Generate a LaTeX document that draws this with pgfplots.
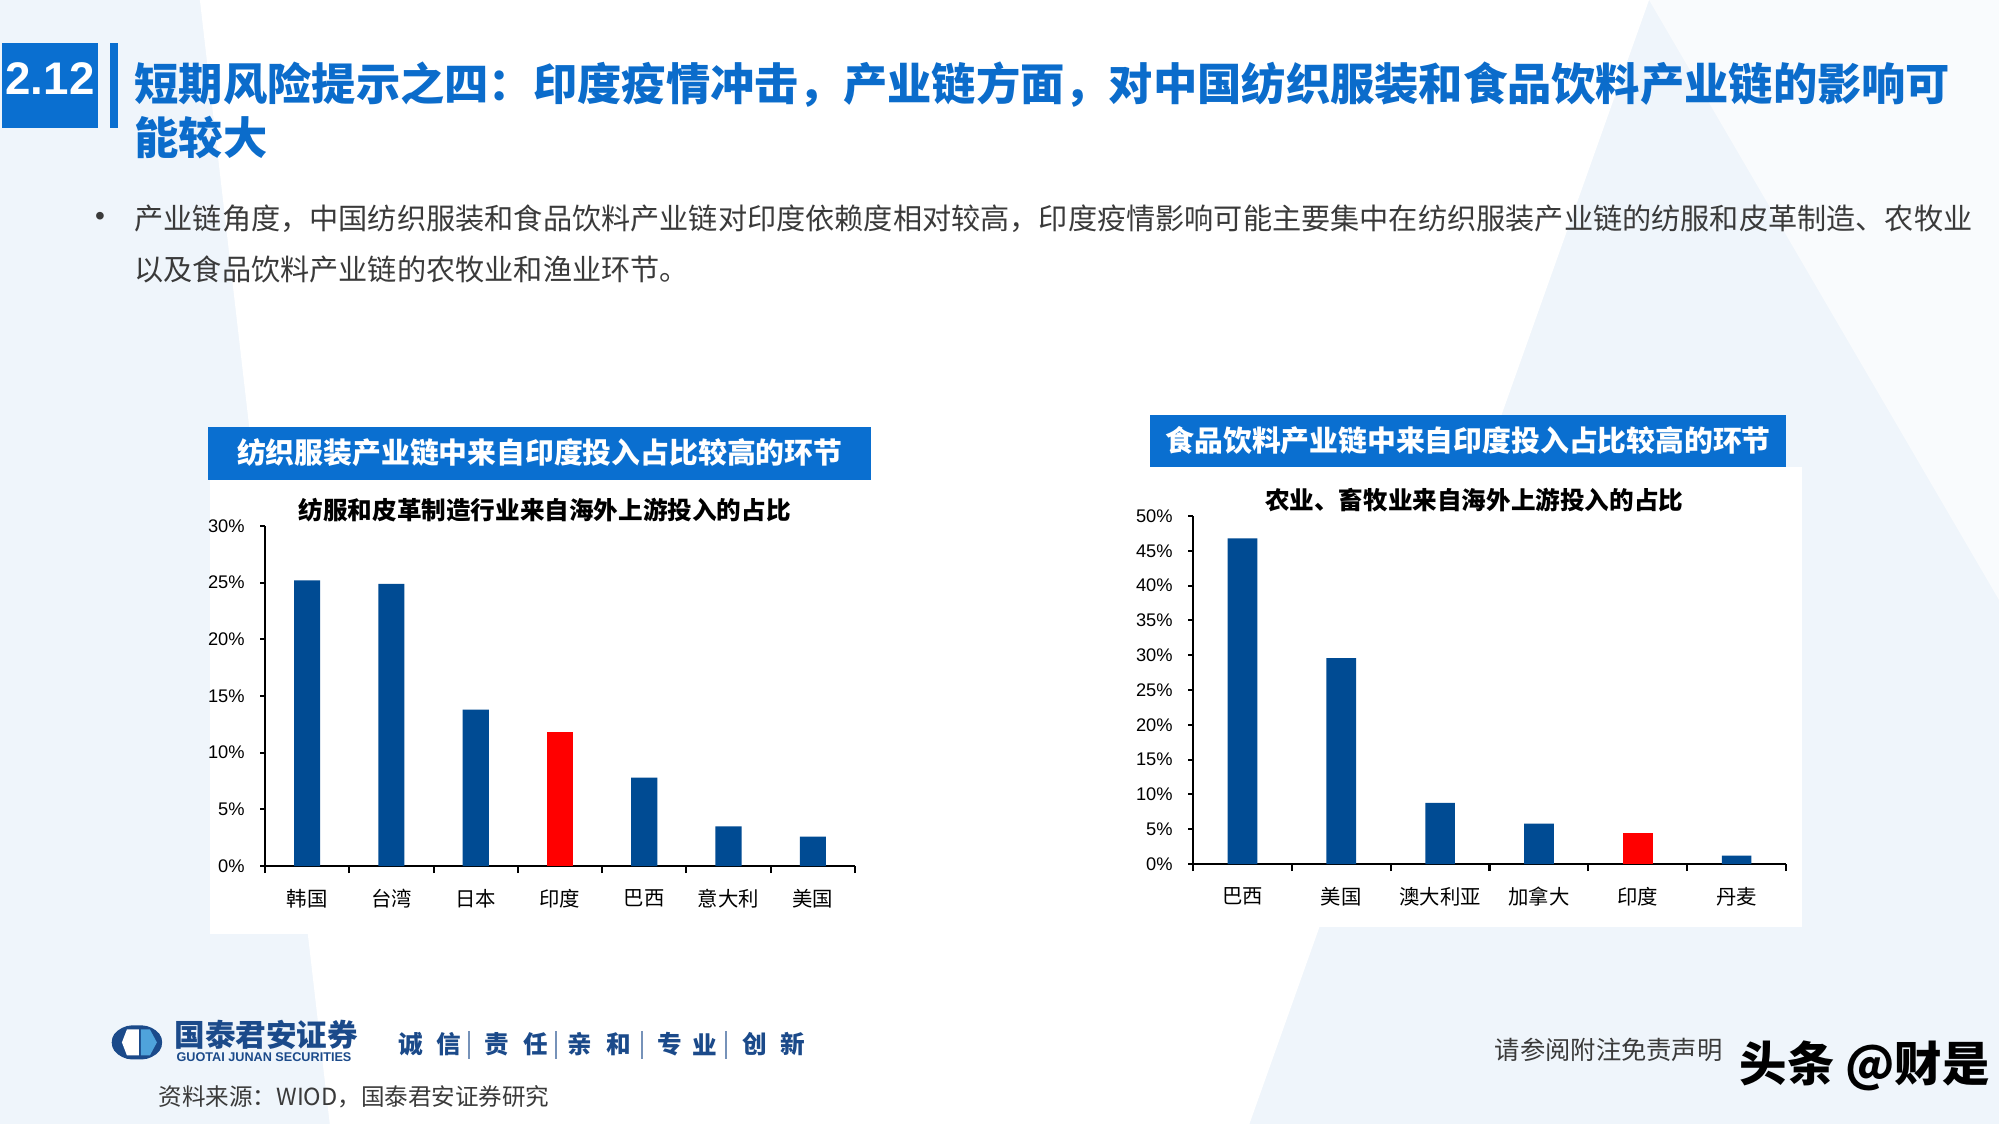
\documentclass[border=0pt]{standalone}
\usepackage{pgfplots}
\pgfplotsset{compat=1.18}
\usepackage{fontspec}
\setmainfont{Liberation Sans}
\newfontfamily\cjk{Noto Sans CJK SC}
\definecolor{barblue}{HTML}{004B93}
\definecolor{hdrblue}{HTML}{0A6FD0}
\definecolor{ttlblue}{HTML}{0B6CCB}
\definecolor{navy}{HTML}{1B4A8A}
\definecolor{lblue}{HTML}{4FA3DB}
\definecolor{txtgray}{HTML}{3A3A3A}
\definecolor{bgl}{HTML}{EFF5FB}
\newcommand\fs[1]{\fontsize{#1}{#1}\selectfont}
\pgfplotsset{mybar/.style={
  scale only axis, anchor=south west,
  axis lines=left, axis line style={-, line width=0.6pt, black},
  ymin=0,
  ybar, bar shift=0pt,
  xtick style={draw=none},
  ytick style={line width=0.6pt, black},
  tick align=outside, major tick length=0.05cm,
  extra x tick style={xtick style={draw=black, line width=0.6pt}, major tick length=0.07cm},
  extra x tick labels={},
  yticklabel={\pgfmathprintnumber{\tick}\%},
  /pgf/number format/assume math mode=true,
  yticklabel style={font=\fs{5.2pt}, xshift=-0.03cm},
  xticklabel style={font=\cjk\fs{5.8pt}, yshift=-0.06cm},
}}
\begin{document}
\begin{tikzpicture}
\useasboundingbox (0,0) rectangle (20cm,-11.25cm);
\begin{scope}[x=0.01cm,y=-0.01cm]
\fill[bgl] (0,0) rectangle (2000,1125);
\fill[white] (200,0) -- (1650,0) -- (1250,1125) -- (330,1125) -- cycle;
\fill[white!60!bgl] (1650,0) -- (2000,0) -- (2000,600) -- cycle;
% title block
\fill[hdrblue] (2,43) rectangle (98,128);
\node[text=white, font=\bfseries\fs{13pt}, inner sep=0] at (50,79) {2.12};
\fill[hdrblue] (110,43) rectangle (118,128);
\node[anchor=west, inner sep=0, text=ttlblue, font=\cjk\bfseries\fs{12.6pt}] at (134,85) {短期风险提示之四：印度疫情冲击，产业链方面，对中国纺织服装和食品饮料产业链的影响可};
\node[anchor=west, inner sep=0, text=ttlblue, font=\cjk\bfseries\fs{12.6pt}] at (134,138) {能较大};
% bullet
\node[text=txtgray, font=\fs{8pt}, inner sep=0] at (100,219) {•};
\node[anchor=west, inner sep=0, text=txtgray, font=\cjk\fs{8.3pt}] at (134,219) {产业链角度，中国纺织服装和食品饮料产业链对印度依赖度相对较高，印度疫情影响可能主要集中在纺织服装产业链的纺服和皮革制造、农牧业};
\node[anchor=west, inner sep=0, text=txtgray, font=\cjk\fs{8.3pt}] at (134,270) {以及食品饮料产业链的农牧业和渔业环节。};
% chart panels
\fill[white] (210,480) rectangle (871,935);
\fill[hdrblue] (208,427) rectangle (871,480);
\node[text=white, font=\cjk\bfseries\fs{8.2pt}, inner sep=0] at (540,453) {纺织服装产业链中来自印度投入占比较高的环节};
\node[text=black, font=\cjk\bfseries\fs{7pt}, inner sep=0] at (545,510) {纺服和皮革制造行业来自海外上游投入的占比};
\fill[white] (1142,467) rectangle (1803,928);
\fill[hdrblue] (1151,415) rectangle (1787,467);
\node[text=white, font=\cjk\bfseries\fs{8.2pt}, inner sep=0] at (1469,441) {食品饮料产业链中来自印度投入占比较高的环节};
\node[text=black, font=\cjk\bfseries\fs{7pt}, inner sep=0] at (1475,500) {农业、畜牧业来自海外上游投入的占比};
% footer logo
\fill[navy, rounded corners=3] (108,1043) -- (121,1026) -- (153,1026) -- (166,1043) -- (153,1060) -- (121,1060) -- cycle;
\fill[white] (127,1030) -- (139,1030) -- (139,1056) -- (127,1056) -- (122,1043) -- cycle;
\fill[lblue] (141,1030) -- (150,1030) -- (157,1043) -- (150,1056) -- (141,1056) -- cycle;
\node[anchor=west, inner sep=0, text=navy, font=\cjk\bfseries\fs{8.7pt}] at (174,1035) {国泰君安证券};
\node[anchor=west, inner sep=0, text=navy, font=\bfseries\fs{3.6pt}] at (176,1058) {GUOTAI JUNAN SECURITIES};
\foreach \x/\c in {411/诚,449/信,497/责,536/任,580/亲,619/和,670/专,705/业,755/创,793/新}
  \node[text=navy, font=\cjk\bfseries\fs{7pt}, inner sep=0] at (\x,1045) {\c};
\foreach \x in {469,556,642,726}
  \draw[navy!60, line width=0.6pt] (\x,1032) -- (\x,1060);
\node[anchor=west, inner sep=0, text=txtgray, font=\cjk\fs{6.7pt}] at (158,1097) {资料来源：WIOD，国泰君安证券研究};
\node[anchor=west, inner sep=0, text=txtgray, font=\cjk\fs{7.2pt}] at (1495,1050) {请参阅附注免责声明};
\node[anchor=west, inner sep=0, text=black, font=\cjk\bfseries\fs{13.5pt}] at (1740,1066) {头条 @财是};
\end{scope}
% left chart
\begin{axis}[mybar, at={(2.65cm,-8.66cm)}, width=5.90cm, height=3.40cm,
  xmin=-0.5, xmax=6.5, ymax=30, ytick={0,5,10,15,20,25,30},
  xtick={0,1,2,3,4,5,6}, xticklabels={韩国,台湾,日本,印度,巴西,意大利,美国},
  extra x ticks={-0.5,0.5,1.5,2.5,3.5,4.5,5.5,6.5}, bar width=0.31]
\addplot[fill=barblue, draw=none] coordinates {(0,25.2) (1,24.9) (2,13.8) (4,7.8) (5,3.5) (6,2.6)};
\addplot[fill=red, draw=none] coordinates {(3,11.8)};
\end{axis}
% right chart
\begin{axis}[mybar, at={(11.93cm,-8.64cm)}, width=5.93cm, height=3.48cm,
  xmin=-0.5, xmax=5.5, ymax=50, ytick={0,5,10,15,20,25,30,35,40,45,50},
  xtick={0,1,2,3,4,5}, xticklabels={巴西,美国,澳大利亚,加拿大,印度,丹麦},
  extra x ticks={-0.5,0.5,1.5,2.5,3.5,4.5,5.5}, bar width=0.30]
\addplot[fill=barblue, draw=none] coordinates {(0,46.8) (1,29.6) (2,8.8) (3,5.8) (5,1.2)};
\addplot[fill=red, draw=none] coordinates {(4,4.4)};
\end{axis}
\end{tikzpicture}
\end{document}
